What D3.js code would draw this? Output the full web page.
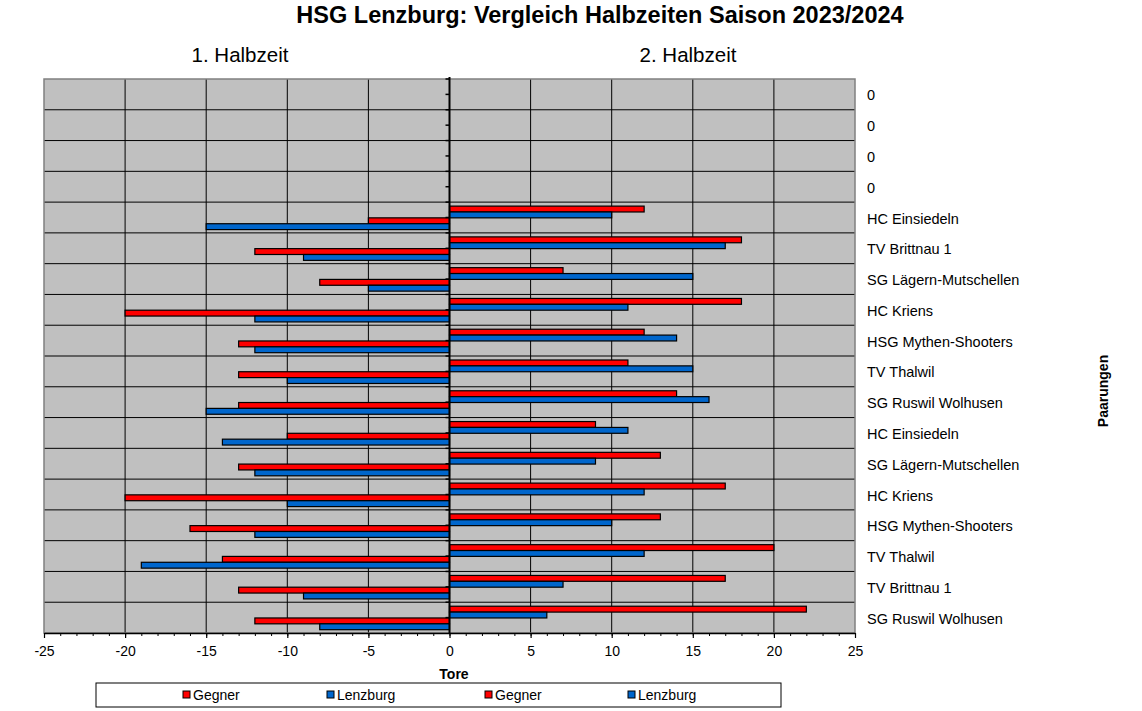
<!DOCTYPE html>
<html>
<head>
<meta charset="utf-8">
<script src="https://cdn.jsdelivr.net/npm/d3@7"></script>
<style>
  body { margin: 0; background: #fff; }
  text { font-family: "Liberation Sans", Arial, sans-serif; }
</style>
</head>
<body>
<script>
// data: categories top to bottom (the right hand axis of the chart)
var categories = ["0", "0", "0", "0", "HC Einsiedeln", "TV Brittnau 1", "SG Lägern-Mutschellen",
  "HC Kriens", "HSG Mythen-Shooters", "TV Thalwil", "SG Ruswil Wolhusen", "HC Einsiedeln",
  "SG Lägern-Mutschellen", "HC Kriens", "HSG Mythen-Shooters", "TV Thalwil", "TV Brittnau 1",
  "SG Ruswil Wolhusen"];

// 1. Halbzeit (drawn to the left)
var h1Gegner   = [0, 0, 0, 0, -5, -12, -8, -20, -13, -13, -13, -10, -13, -20, -16, -14, -13, -12];
var h1Lenzburg = [0, 0, 0, 0, -15, -9, -5, -12, -12, -10, -15, -14, -12, -10, -12, -19, -9, -8];
// 2. Halbzeit (drawn to the right)
var h2Gegner   = [0, 0, 0, 0, 12, 18, 7, 18, 12, 11, 14, 9, 13, 17, 13, 20, 17, 22];
var h2Lenzburg = [0, 0, 0, 0, 10, 17, 15, 11, 14, 15, 16, 11, 9, 12, 10, 12, 7, 6];

var xTicks = [-25, -20, -15, -10, -5, 0, 5, 10, 15, 20, 25];
var legendItems = ["Gegner", "Lenzburg", "Gegner", "Lenzburg"];

var red = "#ff0000", blue = "#0066cc";

// useful variables
var W = 1142, H = 711;
var plot = { left: 44, right: 855, top: 79, bottom: 633 };

var svg = d3.select("body")
  .append("svg")
  .attr("width", W)
  .attr("height", H);

// scales
var x = d3.scaleLinear().domain([-25, 25]).range([plot.left, plot.right]);
var y = d3.scaleBand().domain(d3.range(categories.length)).range([plot.top, plot.bottom]);
var sub = d3.scaleBand().domain(["h2g", "h2l", "h1g", "h1l"]).range([4, y.bandwidth() - 3.3]);

// plot background
svg.append("rect")
  .attr("x", plot.left).attr("y", plot.top)
  .attr("width", plot.right - plot.left).attr("height", plot.bottom - plot.top)
  .attr("fill", "#c0c0c0");

// vertical grid lines
svg.append("g").selectAll("line")
  .data(xTicks.filter(function(d) { return d !== 0 && Math.abs(d) !== 25; }))
  .enter().append("line")
  .attr("x1", function(d) { return x(d); }).attr("x2", function(d) { return x(d); })
  .attr("y1", plot.top).attr("y2", plot.bottom)
  .attr("stroke", "#000").attr("stroke-width", 1);

// horizontal grid lines at category boundaries
svg.append("g").selectAll("line")
  .data(d3.range(1, categories.length))
  .enter().append("line")
  .attr("x1", plot.left).attr("x2", plot.right)
  .attr("y1", function(i) { return y(i); }).attr("y2", function(i) { return y(i); })
  .attr("stroke", "#000").attr("stroke-width", 1);

// plot border
svg.append("rect")
  .attr("x", plot.left).attr("y", plot.top)
  .attr("width", plot.right - plot.left).attr("height", plot.bottom - plot.top)
  .attr("fill", "none").attr("stroke", "#808080").attr("stroke-width", 1.5);

// bars
var series = [
  { key: "h2g", values: h2Gegner, color: red },
  { key: "h2l", values: h2Lenzburg, color: blue },
  { key: "h1g", values: h1Gegner, color: red },
  { key: "h1l", values: h1Lenzburg, color: blue }
];

series.forEach(function(s) {
  svg.append("g").selectAll("rect")
    .data(s.values.map(function(v, i) { return { i: i, v: v }; }).filter(function(d) { return d.v !== 0; }))
    .enter().append("rect")
    .attr("x", function(d) { return x(Math.min(0, d.v)); })
    .attr("y", function(d) { return y(d.i) + sub(s.key); })
    .attr("width", function(d) { return Math.abs(x(d.v) - x(0)); })
    .attr("height", sub.bandwidth())
    .attr("fill", s.color)
    .attr("stroke", "#000")
    .attr("stroke-width", 1.2);
});

// category axis at zero, ticks every half category
svg.append("line")
  .attr("x1", x(0)).attr("x2", x(0))
  .attr("y1", plot.top - 2).attr("y2", plot.bottom)
  .attr("stroke", "#000").attr("stroke-width", 2);

svg.append("g").selectAll("line")
  .data(d3.range(0, categories.length * 2))
  .enter().append("line")
  .attr("x1", x(0) - 4).attr("x2", x(0))
  .attr("y1", function(k) { return plot.top + k * y.bandwidth() / 2; })
  .attr("y2", function(k) { return plot.top + k * y.bandwidth() / 2; })
  .attr("stroke", "#000").attr("stroke-width", 1.5);

// category labels on the right
svg.append("g").selectAll("text")
  .data(categories)
  .enter().append("text")
  .attr("x", 867)
  .attr("y", function(d, i) { return y(i) + y.bandwidth() / 2 + 1; })
  .attr("dy", "0.35em")
  .attr("font-size", "14.5px")
  .text(function(d) { return d; });

// x axis: minor ticks
svg.append("g")
  .attr("transform", "translate(0," + plot.bottom + ")")
  .call(d3.axisBottom(x).tickValues(d3.range(-25, 26, 1)).tickSize(3).tickFormat(""))
  .call(function(g) {
    g.select(".domain").remove();
    g.selectAll("line").attr("stroke-width", 1);
  });

// x axis: major ticks and labels (plain hyphen as minus sign)
svg.append("g")
  .attr("transform", "translate(0," + plot.bottom + ")")
  .call(d3.axisBottom(x).tickValues(xTicks).tickSize(5).tickPadding(8).tickSizeOuter(0)
    .tickFormat(function(d) { return String(d); }))
  .call(function(g) {
    g.select(".domain").attr("stroke-width", 1.5);
    g.selectAll("line").attr("stroke-width", 1.2);
    g.selectAll("text")
      .attr("font-size", "14px")
      .attr("fill", "#000")
      .attr("font-family", "Liberation Sans, Arial, sans-serif");
  });

// titles
svg.append("text")
  .attr("x", 600).attr("y", 23)
  .attr("text-anchor", "middle")
  .attr("font-size", "23.5px").attr("font-weight", "bold")
  .text("HSG Lenzburg: Vergleich Halbzeiten Saison 2023/2024");

svg.append("text")
  .attr("x", 240).attr("y", 62)
  .attr("text-anchor", "middle")
  .attr("font-size", "20.5px")
  .text("1. Halbzeit");

svg.append("text")
  .attr("x", 688).attr("y", 62)
  .attr("text-anchor", "middle")
  .attr("font-size", "20.5px")
  .text("2. Halbzeit");

svg.append("text")
  .attr("x", 454).attr("y", 679)
  .attr("text-anchor", "middle")
  .attr("font-size", "14px").attr("font-weight", "bold")
  .text("Tore");

svg.append("text")
  .attr("transform", "translate(1108,391) rotate(-90)")
  .attr("text-anchor", "middle")
  .attr("font-size", "14px").attr("font-weight", "bold")
  .text("Paarungen");

// legend
var legend = svg.append("g");
legend.append("rect")
  .attr("x", 96).attr("y", 683)
  .attr("width", 685).attr("height", 24)
  .attr("fill", "#fff").attr("stroke", "#000").attr("stroke-width", 1);

var legendX = [183, 327, 485, 628];
var legendColors = [red, blue, red, blue];
var li = legend.selectAll(".item")
  .data(legendItems)
  .enter().append("g")
  .attr("class", "item")
  .attr("transform", function(d, i) { return "translate(" + legendX[i] + ",691)"; });

li.append("rect")
  .attr("width", 7).attr("height", 7)
  .attr("fill", function(d, i) { return legendColors[i]; })
  .attr("stroke", "#000").attr("stroke-width", 1);

li.append("text")
  .attr("x", 10).attr("y", 8.5)
  .attr("font-size", "14px")
  .text(function(d) { return d; });
</script>
</body>
</html>
